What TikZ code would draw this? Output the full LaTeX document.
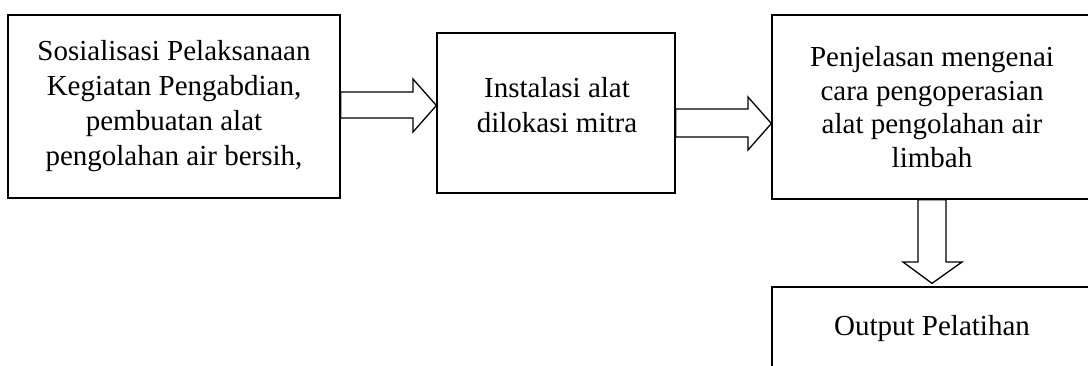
\documentclass[tikz,border=0pt]{standalone}
\usepackage{fontspec}
\setmainfont{Liberation Serif}
\usetikzlibrary{calc}
\begin{document}
\begin{tikzpicture}[x=1pt,y=-1pt,
  box/.style={draw=black, line width=1.3pt, rectangle, inner sep=0pt, align=center,
    font=\fontsize{29}{35}\selectfont},
  txt/.style={inner sep=0pt, align=center, font=\fontsize{29}{35}\selectfont},
  blk/.style={draw=black, line width=1.3pt, fill=white, line join=miter}]
\useasboundingbox (0,0) rectangle (1088,365);
\clip (0,0) rectangle (1088,365);
% boxes
\node[box, minimum width=332pt, minimum height=183pt] (b1) at (174,106.5)
  {Sosialisasi Pelaksanaan\\Kegiatan Pengabdian,\\pembuatan alat\\pengolahan air bersih,};
\node[box, minimum width=238pt, minimum height=160pt] (b2) at (556,113) {};
\node[txt] (b2t) at (557,105) {Instalasi alat\\dilokasi mitra};
\node[box, minimum width=320pt, minimum height=184pt, font=\fontsize{29}{33.5}\selectfont] (b3) at (932,107)
  {Penjelasan mengenai\\cara pengoperasian\\alat pengolahan air\\limbah};
\node[box, minimum width=320pt, minimum height=83pt] (b4) at (932,328.5) {Output Pelatihan};
% block arrows
\draw[blk] (b1.east |- 0,92) -- (413,92) -- (413,79) -- (b2.west |- 0,105.5)
  -- (413,132) -- (413,118) -- (b1.east |- 0,118) -- cycle;
\draw[blk] (b2.east |- 0,109) -- (748,109) -- (748,97) -- (b3.west |- 0,123.5)
  -- (748,150) -- (748,137) -- (b2.east |- 0,137) -- cycle;
\coordinate (tip) at ($(b4.north)+(0,-3)$);
\draw[blk] (918,0 |- b3.south) -- (918,262) -- (903,262) -- (tip)
  -- (962,262) -- (946,262) -- (946,0 |- b3.south) -- cycle;
\end{tikzpicture}
\end{document}
